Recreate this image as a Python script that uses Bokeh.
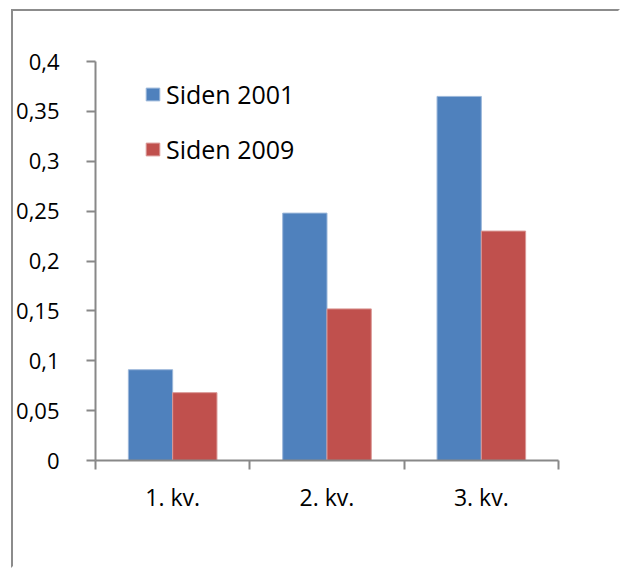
from bokeh.plotting import figure
from bokeh.models import FixedTicker, Legend, LegendItem, ColumnDataSource, Range1d
from bokeh.embed import file_html
from bokeh.resources import INLINE

categories = ["1. kv.", "2. kv.", "3. kv."]
series_names = ["Siden 2001", "Siden 2009"]
siden_2001 = [0.091, 0.248, 0.365]
siden_2009 = [0.068, 0.152, 0.230]
y_ticks = [0, 0.05, 0.1, 0.15, 0.2, 0.25, 0.3, 0.35, 0.4]
y_tick_labels = ["0", "0,05", "0,1", "0,15", "0,2", "0,25", "0,3", "0,35", "0,4"]

colors = ["#4F81BD", "#C0504D"]
edge_colors = ["#9BB7DA", "#DA9896"]
FONT = "Open Sans"
AX = "#888888"

n = len(categories)
centers = [i + 0.5 for i in range(n)]
bw = 0.287

p = figure(output_backend="svg", toolbar_location=None,
           width=609, height=559,
           x_range=Range1d(0, n), y_range=Range1d(0, 0.4),
           min_border_left=81, min_border_top=50,
           min_border_right=64, min_border_bottom=110)
p.margin = (9, 0, 0, 11)
p.styles = {"border-top": "2px solid #8c8c8c", "border-left": "2px solid #8c8c8c",
            "border-right": "2px solid white", "border-bottom": "2px solid white"}

renderers = []
for k, vals in enumerate([siden_2001, siden_2009]):
    off = (k - 0.5) * bw
    src = ColumnDataSource(dict(x=[c + off for c in centers], top=vals))
    r = p.vbar(x="x", top="top", width=bw, bottom=0, source=src,
               fill_color=colors[k], line_color=edge_colors[k], line_width=1)
    renderers.append(r)

p.xgrid.visible = False
p.ygrid.visible = False
p.outline_line_color = None
p.background_fill_color = "white"
p.border_fill_color = "white"

# y axis
ya = p.yaxis[0]
ya.ticker = FixedTicker(ticks=y_ticks)
ya.major_label_overrides = {t: l for t, l in zip(y_ticks, y_tick_labels)}
ya.axis_line_color = AX
ya.axis_line_width = 2
ya.major_tick_line_color = AX
ya.major_tick_line_width = 2
ya.major_tick_out = 9
ya.major_tick_in = 0
ya.minor_tick_line_color = None
ya.major_label_standoff = 27
ya.major_label_text_font = FONT
ya.major_label_text_font_size = "22px"
ya.major_label_text_color = "black"

# x axis
xa = p.xaxis[0]
xa.ticker = FixedTicker(ticks=centers, minor_ticks=list(range(n + 1)))
xa.major_label_overrides = {c: l for c, l in zip(centers, categories)}
xa.axis_line_color = AX
xa.axis_line_width = 2
xa.major_tick_line_color = None
xa.major_tick_out = 8
xa.minor_tick_line_color = AX
xa.minor_tick_line_width = 2
xa.minor_tick_out = 9
xa.minor_tick_in = 0
xa.major_label_standoff = 11
xa.major_label_text_font = FONT
xa.major_label_text_font_size = "23px"
xa.major_label_text_color = "black"

legend = Legend(items=[LegendItem(label=series_names[i], renderers=[renderers[i]]) for i in range(2)],
                location=(49, 294))
legend.border_line_color = None
legend.background_fill_alpha = 0
legend.padding = 0
legend.margin = 0
legend.glyph_width = 17
legend.glyph_height = 16
legend.label_standoff = 5
legend.spacing = 21
legend.label_text_font = FONT
legend.label_text_font_size = "25px"
legend.label_text_color = "black"
p.add_layout(legend, "center")

open("out.html", "w").write(file_html(p, INLINE))
